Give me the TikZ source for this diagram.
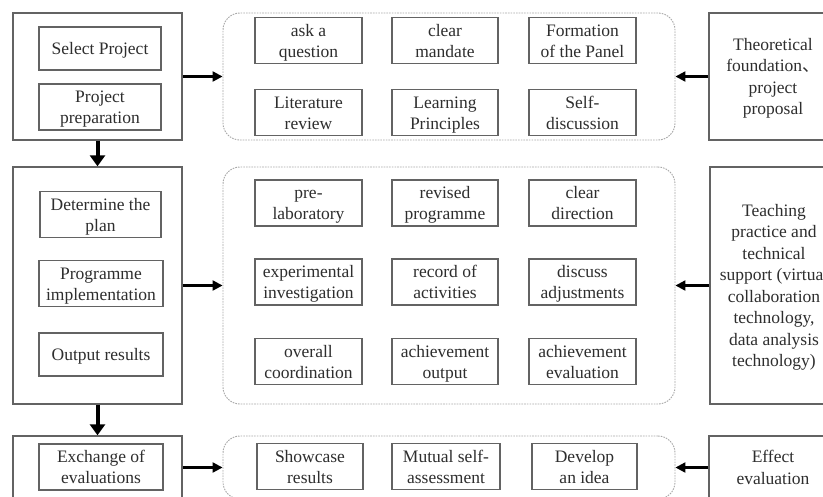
\documentclass[tikz,border=0pt]{standalone}
\usepackage{fontspec}
\setmainfont{Liberation Serif}
\newfontfamily\cjk{Noto Sans CJK SC}
\usetikzlibrary{arrows.meta}
\definecolor{boxgray}{HTML}{636363}
\definecolor{dashgray}{HTML}{A8A8A8}
\definecolor{txt}{HTML}{2E2E2E}
\newcommand\mlines[1]{\begin{tabular}{@{}c@{}}\rule{0pt}{18.5pt}#1\end{tabular}}
\tikzset{
  outerbox/.style={draw=boxgray, line width=1.4pt, inner sep=0pt},
  innerbox/.style={draw=boxgray, line width=1.4pt, inner sep=0pt, text=txt},
  sidebox/.style={draw=boxgray, line width=1.4pt, inner sep=0pt, text=txt, font=\fontsize{17.5}{21.5}\selectfont},
  grp/.style={draw=dashgray, line width=0.9pt, dash pattern=on 1.6pt off 1.1pt, rounded corners=17pt, inner sep=0pt},
  rarrow/.style={-{Triangle[length=10pt,width=10pt]}, line width=2.2pt, black},
  darrow/.style={-{Triangle[length=11pt,width=15pt]}, line width=4pt, black},
}
\begin{document}
\begin{tikzpicture}[x=1pt, y=-1pt, font=\fontsize{17.5}{21}\selectfont]
\path[use as bounding box] (0,0) rectangle (823,496);
\clip (0,0) rectangle (823,496);
\fill[white] (0,0) rectangle (823,496);

% left column
\node[outerbox, minimum width=169pt, minimum height=127pt] (L1) at (97.5,76.5) {};
\node[outerbox, minimum width=169pt, minimum height=237pt] (L2) at (97.5,285.5) {};
\node[outerbox, minimum width=169pt, minimum height=63pt] (L3) at (97.5,467.5) {};

\node[innerbox, minimum width=122pt, minimum height=43pt] (a1) at (100,48.5) {\mlines{Select Project}};
\node[innerbox, minimum width=122pt, minimum height=40pt] (a2) at (100,107) {\mlines{Project\\preparation}};
\node[innerbox, minimum width=121pt, minimum height=41pt] (b1) at (100.5,214.5) {\mlines{Determine the\\plan}};
\node[innerbox, minimum width=124pt, minimum height=41pt] (b2) at (101,283.5) {\mlines{Programme\\implementation}};
\node[innerbox, minimum width=124pt, minimum height=43pt] (b3) at (101,354.5) {\mlines{Output results}};
\node[innerbox, minimum width=124pt, minimum height=40pt] (c1) at (101,467) {\mlines{Exchange of\\evaluations}};

% middle groups
\node[grp, minimum width=452pt, minimum height=127pt] (M1) at (449,76.5) {};
\node[grp, minimum width=452pt, minimum height=237pt] (M2) at (449,285.5) {};
\node[grp, minimum width=452pt, minimum height=63pt] (M3) at (449,467.5) {};

\node[innerbox, minimum width=107pt, minimum height=41pt] (m11) at (308.5,40.5) {\mlines{ask a\\question}};
\node[innerbox, minimum width=106pt, minimum height=41pt] (m12) at (445,40.5) {\mlines{clear\\mandate}};
\node[innerbox, minimum width=107pt, minimum height=41pt] (m13) at (582.5,40.5) {\mlines{Formation\\of the Panel}};
\node[innerbox, minimum width=107pt, minimum height=41pt] (m14) at (308.5,112.5) {\mlines{Literature\\review}};
\node[innerbox, minimum width=106pt, minimum height=41pt] (m15) at (445,112.5) {\mlines{Learning\\Principles}};
\node[innerbox, minimum width=107pt, minimum height=41pt] (m16) at (582.5,112.5) {\mlines{Self-\\discussion}};

\node[innerbox, minimum width=107pt, minimum height=40pt] (m21) at (308.5,203) {\mlines{pre-\\laboratory}};
\node[innerbox, minimum width=106pt, minimum height=40pt] (m22) at (445,203) {\mlines{revised\\programme}};
\node[innerbox, minimum width=107pt, minimum height=40pt] (m23) at (582.5,203) {\mlines{clear\\direction}};
\node[innerbox, minimum width=107pt, minimum height=40pt] (m24) at (308.5,282) {\mlines{experimental\\investigation}};
\node[innerbox, minimum width=106pt, minimum height=40pt] (m25) at (445,282) {\mlines{record of\\activities}};
\node[innerbox, minimum width=107pt, minimum height=40pt] (m26) at (582.5,282) {\mlines{discuss\\adjustments}};
\node[innerbox, minimum width=107pt, minimum height=41pt] (m27) at (308.5,361.5) {\mlines{overall\\coordination}};
\node[innerbox, minimum width=106pt, minimum height=41pt] (m28) at (445,361.5) {\mlines{achievement\\output}};
\node[innerbox, minimum width=107pt, minimum height=41pt] (m29) at (582.5,361.5) {\mlines{achievement\\evaluation}};

\node[innerbox, minimum width=106pt, minimum height=41pt] (m31) at (310,466.5) {\mlines{Showcase\\results}};
\node[innerbox, minimum width=108pt, minimum height=41pt] (m32) at (446,466.5) {\mlines{Mutual self-\\assessment}};
\node[innerbox, minimum width=105pt, minimum height=41pt] (m33) at (584.5,466.5) {\mlines{Develop\\an idea}};

% right column
\node[sidebox, minimum width=128pt, minimum height=127pt] (R1) at (773,76.5) {\mlines{Theoretical\\foundation{\cjk 、}\\project\\proposal}};
\node[sidebox, minimum width=128pt, minimum height=237pt] (R2) at (774,285.5) {\mlines{Teaching\\practice and\\technical\\support (virtual\\collaboration\\technology,\\data analysis\\technology)}};
\node[sidebox, minimum width=128pt, minimum height=63pt] (R3) at (773,467.5) {\mlines{Effect\\evaluation}};

% connectors
\draw[rarrow] (L1.east) -- (M1.west);
\draw[rarrow] (L2.east) -- (M2.west);
\draw[rarrow] (L3.east) -- (M3.west);
\draw[rarrow] (R1.west) -- (M1.east);
\draw[rarrow] (R2.west) -- (M2.east);
\draw[rarrow] (R3.west) -- (M3.east);
\draw[darrow] (L1.south) -- (L2.north);
\draw[darrow] (L2.south) -- (L3.north);
\end{tikzpicture}
\end{document}
